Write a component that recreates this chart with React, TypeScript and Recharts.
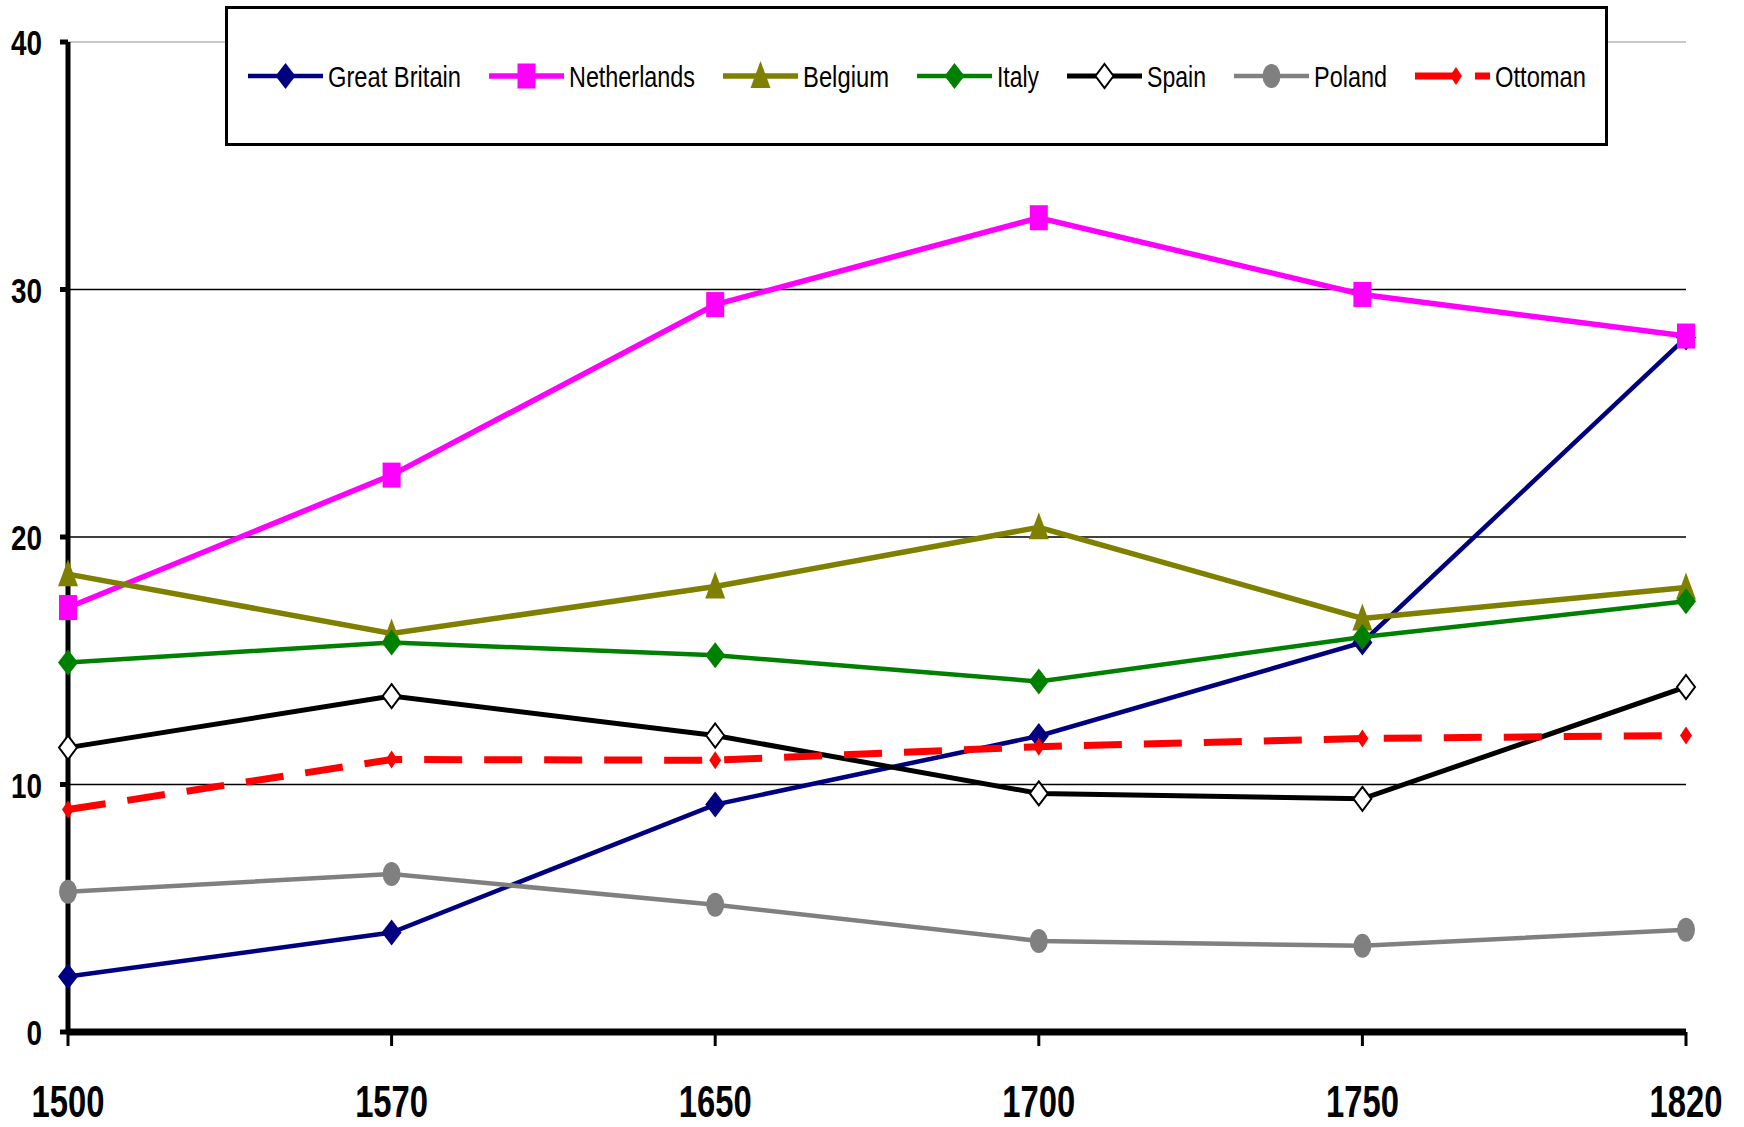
import { LineChart, Line, XAxis, YAxis, ReferenceLine, Legend } from "recharts";

const years = ["1500", "1570", "1650", "1700", "1750", "1820"];
const greatBritain = [2.24, 4.02, 9.19, 11.96, 15.74, 28.06];
const netherlands = [17.15, 22.5, 29.39, 32.9, 29.8, 28.12];
const belgium = [18.5, 16.1, 18.0, 20.39, 16.71, 17.96];
const italy = [14.93, 15.74, 15.22, 14.16, 15.96, 17.4];
const spain = [11.49, 13.57, 11.98, 9.64, 9.42, 13.94];
const poland = [5.67, 6.38, 5.14, 3.68, 3.48, 4.13];
const ottoman = [8.99, 11.01, 10.98, 11.53, 11.86, 11.98];

const yTicks = [0, 10, 20, 30, 40];
const gridLines = [10, 20, 30];

// narrow look: Liberation Sans squeezed horizontally
const FONT = "'Liberation Sans', Arial, sans-serif";
const NARROW = 0.82;

type Shape = "diamond" | "square" | "triangle" | "hollowDiamond" | "circle" | "smallDiamond";

interface Series {
    key: string;
    name: string;
    color: string;
    shape: Shape;
    width: number;
    dash?: string;
    labelWidth: number;
}

const series: Series[] = [
    { key: "gb", name: "Great Britain", color: "#000080", shape: "diamond", width: 4.5, labelWidth: 133 },
    { key: "nl", name: "Netherlands", color: "#FF00FF", shape: "square", width: 5.5, labelWidth: 126 },
    { key: "be", name: "Belgium", color: "#808000", shape: "triangle", width: 5.5, labelWidth: 86 },
    { key: "it", name: "Italy", color: "#008000", shape: "diamond", width: 4.5, labelWidth: 42 },
    { key: "es", name: "Spain", color: "#000000", shape: "hollowDiamond", width: 5, labelWidth: 59 },
    { key: "pl", name: "Poland", color: "#808080", shape: "circle", width: 4.5, labelWidth: 73 },
    { key: "ot", name: "Ottoman", color: "#FF0000", shape: "smallDiamond", width: 7, dash: "38 22", labelWidth: 91 },
];

const values: { [k: string]: number[] } = {
    gb: greatBritain,
    nl: netherlands,
    be: belgium,
    it: italy,
    es: spain,
    pl: poland,
    ot: ottoman,
};

const data = years.map((year, i) => {
    const row: { [k: string]: string | number } = { year };
    series.forEach((s) => {
        row[s.key] = values[s.key][i];
    });
    return row;
});

function Marker({ cx, cy, shape, color }: { cx: number; cy: number; shape: Shape; color: string }) {
    switch (shape) {
        case "diamond":
            return <polygon points={`${cx},${cy - 13} ${cx + 10},${cy} ${cx},${cy + 13} ${cx - 10},${cy}`} fill={color} />;
        case "smallDiamond":
            return <polygon points={`${cx},${cy - 9} ${cx + 6},${cy} ${cx},${cy + 9} ${cx - 6},${cy}`} fill={color} />;
        case "hollowDiamond":
            return (
                <polygon
                    points={`${cx},${cy - 12} ${cx + 9},${cy} ${cx},${cy + 12} ${cx - 9},${cy}`}
                    fill="#fff"
                    stroke="#000"
                    strokeWidth={2}
                />
            );
        case "square":
            return <rect x={cx - 9} y={cy - 12.5} width={18} height={25} fill={color} />;
        case "triangle":
            return <polygon points={`${cx},${cy - 15} ${cx + 10},${cy + 12} ${cx - 10},${cy + 12}`} fill={color} />;
        case "circle":
            return <ellipse cx={cx} cy={cy} rx={9} ry={12} fill={color} />;
    }
    return null;
}

const dotFor = (s: Series) => (props: any) => (
    <Marker key={`${s.key}-${props.index}`} cx={props.cx} cy={props.cy} shape={s.shape} color={s.color} />
);

function XTick(props: any) {
    const { x, y, payload } = props;
    return (
        <text
            transform={`translate(${x},${y + 71}) scale(${NARROW},1.12)`}
            textAnchor="middle"
            fontFamily={FONT}
            fontWeight={700}
            fontSize={40}
            fill="#000"
        >
            {payload.value}
        </text>
    );
}

function YTick(props: any) {
    const { x, y, payload } = props;
    return (
        <text
            transform={`translate(${x},${y + 13}) scale(${NARROW},1.05)`}
            textAnchor="end"
            fontFamily={FONT}
            fontWeight={700}
            fontSize={34}
            fill="#000"
        >
            {payload.value}
        </text>
    );
}

function LegendBox() {
    return (
        <div
            style={{
                boxSizing: "border-box",
                width: "100%",
                height: "100%",
                border: "3px solid #000",
                background: "#fff",
                display: "flex",
                alignItems: "center",
                justifyContent: "center",
            }}
        >
            {series.map((s, i) => (
                <svg
                    key={s.key}
                    width={90 + s.labelWidth}
                    height={44}
                    style={{ display: "block", overflow: "visible", marginLeft: i === 0 ? 10 : 18 }}
                >
                    <line
                        x1={0}
                        y1={22}
                        x2={75}
                        y2={22}
                        stroke={s.color}
                        strokeWidth={s.width}
                        strokeDasharray={s.dash ? "44 16" : undefined}
                    />
                    <Marker cx={s.dash ? 41 : 37.5} cy={22} shape={s.shape} color={s.color} />
                    <text
                        x={80}
                        y={33}
                        fontFamily={FONT}
                        fontSize={30}
                        fill="#000"
                        textLength={s.labelWidth}
                        lengthAdjust="spacingAndGlyphs"
                    >
                        {s.name}
                    </text>
                </svg>
            ))}
        </div>
    );
}

export default function App() {
    return (
        <div style={{ position: "absolute", left: 0, top: 0, width: 1744, height: 1127, background: "#fff" }}>
            <LineChart
                width={1744}
                height={1127}
                data={data}
                margin={{ top: 42, right: 58, left: 0, bottom: 0 }}
            >
                <XAxis
                    dataKey="year"
                    height={95}
                    axisLine={{ stroke: "#000", strokeWidth: 7 }}
                    tickLine={{ stroke: "#000", strokeWidth: 3 }}
                    tickSize={14}
                    tickMargin={0}
                    tick={<XTick />}
                />
                <YAxis
                    width={68}
                    domain={[0, 40]}
                    ticks={yTicks}
                    axisLine={{ stroke: "#000", strokeWidth: 5 }}
                    tickLine={{ stroke: "#000", strokeWidth: 5 }}
                    tickSize={8}
                    tickMargin={18}
                    tick={<YTick />}
                />
                <ReferenceLine y={40} stroke="#c8c8c8" strokeWidth={2} />
                {gridLines.map((v) => (
                    <ReferenceLine key={v} y={v} stroke="#000" strokeWidth={1.5} />
                ))}
                <Legend
                    layout="vertical"
                    align="center"
                    verticalAlign="middle"
                    wrapperStyle={{ left: 225, top: 6, width: 1383, height: 140 }}
                    content={() => <LegendBox />}
                />
                {series.map((s) => (
                    <Line
                        key={s.key}
                        dataKey={s.key}
                        name={s.name}
                        stroke={s.color}
                        strokeWidth={s.width}
                        strokeDasharray={s.dash}
                        dot={dotFor(s)}
                        activeDot={false}
                        isAnimationActive={false}
                    />
                ))}
            </LineChart>
        </div>
    );
}
